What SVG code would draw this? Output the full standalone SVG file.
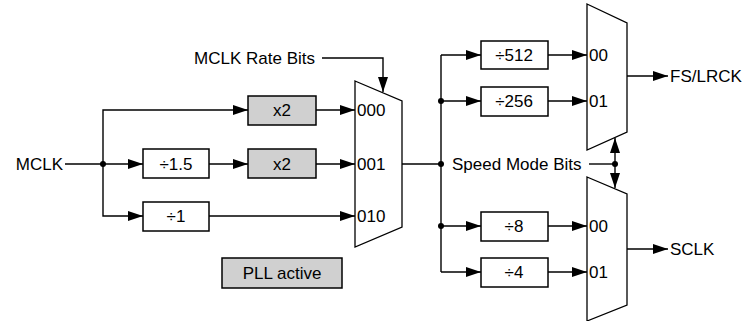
<svg xmlns="http://www.w3.org/2000/svg" width="747" height="321" viewBox="0 0 747 321">
<defs>
<marker id="ah" markerUnits="userSpaceOnUse" markerWidth="15" markerHeight="10" refX="15" refY="5" orient="auto" viewBox="0 0 15 10">
<path d="M0,0 L15,5 L0,10 Z" fill="#000"/>
</marker>
</defs>
<style>
text{font-family:"Liberation Sans",Arial,sans-serif;font-size:17px;fill:#000}
.c{text-anchor:middle}
.e{text-anchor:end}
.box{fill:#fff;stroke:#000;stroke-width:1.5}
.pll{fill:#d0d0d0;stroke:#000;stroke-width:1.5}
.mux{fill:#fff;stroke:#000;stroke-width:1.3}
.w{fill:none;stroke:#000;stroke-width:1.4}
.a{marker-end:url(#ah)}
</style>
<g id="connectors">
<path class="w a" d="M65,164 H143"/>
<path class="w a" d="M103,164 V110 H248"/>
<path class="w a" d="M103,164 V216 H143"/>
<path class="w a" d="M209,164 H248"/>
<path class="w a" d="M316,110 H355"/>
<path class="w a" d="M316,164 H355"/>
<path class="w a" d="M209,216 H355"/>
<path class="w a" d="M322,58 H383 V92"/>
<path class="w" d="M402,164 H441"/>
<path class="w" d="M441,55 V272"/>
<path class="w a" d="M441,55 H481"/>
<path class="w a" d="M441,101 H481"/>
<path class="w a" d="M441,226 H481"/>
<path class="w a" d="M441,272 H481"/>
<path class="w a" d="M548,55 H587"/>
<path class="w a" d="M548,101 H587"/>
<path class="w a" d="M548,226 H587"/>
<path class="w a" d="M548,272 H587"/>
<path class="w a" d="M627,76 H668"/>
<path class="w a" d="M627,249 H668"/>
<path class="w" d="M589,164 H615"/>
<path class="w a" d="M615,164 V138"/>
<path class="w a" d="M615,164 V188"/>
<circle cx="103" cy="164" r="3"/>
<circle cx="441" cy="164" r="3"/>
<circle cx="441" cy="101" r="3"/>
<circle cx="441" cy="226" r="3"/>
<circle cx="615" cy="164" r="3"/>
</g>
<g id="mclk"><text class="e" x="63" y="170">MCLK</text></g>
<g id="rate-bits"><text class="e" x="315" y="64">MCLK Rate Bits</text></g>
<g id="x2a"><rect class="pll" x="248" y="96" width="68" height="29"/><text class="c" x="282" y="116">x2</text></g>
<g id="div15"><rect class="box" x="143" y="149" width="66" height="29"/><text class="c" x="176" y="170">÷1.5</text></g>
<g id="x2b"><rect class="pll" x="248" y="149" width="68" height="29"/><text class="c" x="282" y="170">x2</text></g>
<g id="div1"><rect class="box" x="143" y="202" width="66" height="29"/><text class="c" x="176" y="222">÷1</text></g>
<g id="pll-active"><rect class="pll" x="222" y="258" width="120" height="30"/><text class="c" x="282" y="279">PLL active</text></g>
<g id="mux1"><polygon class="mux" points="355,81 402,101 402,227 355,247"/>
<text x="357" y="116">000</text><text x="357" y="170">001</text><text x="357" y="222">010</text></g>
<g id="div512"><rect class="box" x="481" y="41" width="67" height="28"/><text class="c" x="514" y="61">÷512</text></g>
<g id="div256"><rect class="box" x="481" y="87" width="67" height="29"/><text class="c" x="514" y="107">÷256</text></g>
<g id="div8"><rect class="box" x="481" y="212" width="67" height="29"/><text class="c" x="514" y="232">÷8</text></g>
<g id="div4"><rect class="box" x="481" y="258" width="67" height="29"/><text class="c" x="514" y="278">÷4</text></g>
<g id="speed-mode"><text x="452" y="170">Speed Mode Bits</text></g>
<g id="mux2"><polygon class="mux" points="587,4 627,23 627,132 587,150"/>
<text x="589" y="61">00</text><text x="589" y="107">01</text></g>
<g id="mux3"><polygon class="mux" points="587,177 627,194 627,305 587,321"/>
<text x="589" y="232">00</text><text x="589" y="278">01</text></g>
<g id="fs"><text x="670" y="82">FS/LRCK</text></g>
<g id="sclk"><text x="670" y="255">SCLK</text></g>
</svg>
